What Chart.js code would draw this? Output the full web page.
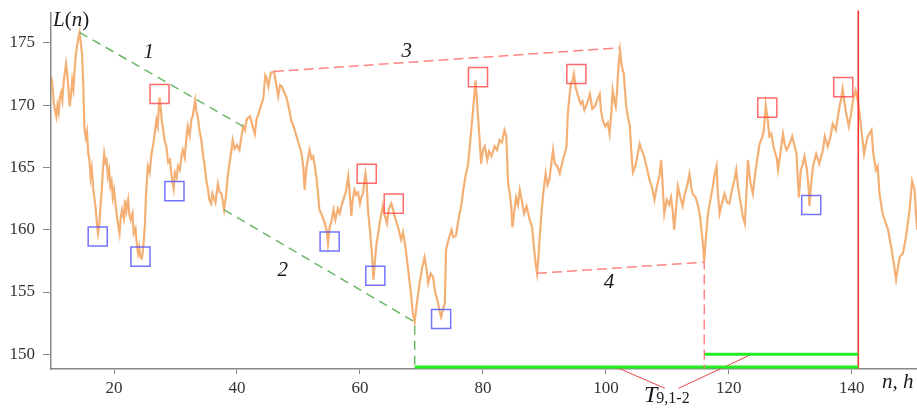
<!DOCTYPE html>
<html>
<head>
<meta charset="utf-8">
<script src="https://cdn.jsdelivr.net/npm/chart.js@4/dist/chart.umd.min.js"></script>
<style>
  html, body { margin: 0; padding: 0; background: #fff; }
  #c { display: block; }
</style>
</head>
<body>
<canvas id="c" width="917" height="408"></canvas>
<script>
// Observation times, h
const hours = [
  9.8,10.0,10.2,10.4,10.6,10.8,11.0,11.2,11.4,11.6,11.8,12.0,12.2,12.4,12.6,12.8,13.0,13.2,13.4,13.6,13.8,14.0,14.2,14.4,14.6,14.8,
  15.0,15.2,15.4,15.6,15.8,16.0,16.2,16.4,16.6,16.8,17.0,17.2,17.4,17.6,17.8,18.0,18.2,18.4,18.6,18.8,19.0,19.2,19.4,19.6,19.8,
  20.0,20.3,20.6,20.9,21.1,21.3,21.6,21.8,22.0,22.3,22.5,22.7,23.0,23.2,23.5,23.7,23.9,24.1,24.3,24.5,24.7,
  25.0,25.2,25.5,25.8,26.1,26.4,26.6,26.9,27.1,27.4,27.6,27.8,28.0,28.2,28.5,28.8,29.1,29.4,29.7,29.9,
  30.2,30.4,30.7,31.0,31.2,31.5,31.8,32.0,32.3,32.6,32.8,33.0,33.2,33.4,33.6,33.9,34.2,34.5,34.7,
  35.0,35.3,35.5,35.8,36.0,36.2,36.5,36.9,37.2,37.5,37.9,38.2,38.5,38.8,39.1,39.3,39.6,
  40.0,40.4,40.7,41.0,41.3,41.6,42.1,42.5,42.9,43.2,43.5,43.7,44.0,44.3,44.6,44.8,
  45.1,45.5,46.0,46.3,46.7,47.0,47.3,47.7,48.0,48.3,48.6,48.8,49.2,49.7,
  50.1,50.5,50.8,51.0,51.3,51.8,52.1,52.4,52.9,53.2,53.4,53.8,54.3,54.6,54.8,
  55.1,55.3,55.7,56.0,56.4,56.7,57.0,57.4,57.7,58.1,58.3,58.6,58.8,59.1,59.4,59.7,
  60.0,60.2,60.5,60.7,60.9,61.1,61.3,61.6,61.9,62.2,62.5,62.7,63.0,63.2,63.5,63.7,64.0,64.4,64.7,
  65.1,65.4,65.8,66.2,66.7,67.0,67.4,67.7,68.1,68.4,68.6,68.9,69.2,69.5,69.7,
  70.1,70.5,70.8,71.1,71.5,71.9,72.2,72.7,73.0,73.2,73.5,73.8,74.0,74.4,74.9,
  75.2,75.6,76.2,76.5,76.8,77.2,77.6,77.9,78.1,78.5,78.8,79.0,79.2,79.5,79.7,
  80.0,80.3,80.7,81.0,81.4,81.9,82.3,82.7,83.1,83.5,83.8,84.1,84.4,84.6,84.8,
  85.1,85.4,85.7,86.0,86.3,86.7,87.1,87.6,88.0,88.4,88.6,88.8,89.0,89.2,89.5,89.8,
  90.2,90.5,90.8,91.1,91.4,91.7,92.1,92.5,93.0,93.3,93.6,93.8,94.1,94.3,94.6,94.8,
  95.1,95.5,95.9,96.2,96.5,97.0,97.4,97.8,98.2,98.6,99.0,99.2,99.5,99.9,
  100.3,100.6,100.9,101.1,101.4,101.6,101.8,102.0,102.3,102.6,102.9,103.3,103.6,103.9,104.1,104.4,104.8,
  105.1,105.5,105.8,106.1,106.6,107.1,107.5,107.9,108.3,108.7,109.0,109.3,109.5,109.9,
  110.3,110.6,110.9,111.1,111.4,111.7,112.1,112.5,112.8,113.2,113.6,113.9,114.1,114.6,
  115.0,115.3,115.5,115.8,116.0,116.3,116.6,117.0,117.3,117.7,118.0,118.2,118.5,118.9,119.3,119.7,
  120.1,120.5,120.9,121.2,121.5,122.0,122.3,122.6,122.9,123.1,123.5,123.9,124.3,124.6,
  125.0,125.4,125.7,126.0,126.3,126.6,126.9,127.2,127.4,127.8,128.0,128.4,128.8,129.1,129.4,129.9,
  130.3,130.7,131.0,131.2,131.4,131.7,132.0,132.3,132.7,133.0,133.1,133.4,133.7,134.2,134.7,
  135.3,135.6,136.1,136.5,136.9,137.4,138.0,138.3,138.5,138.8,139.1,139.5,139.8,
  140.2,140.6,140.9,141.2,141.6,142.0,142.3,142.6,143.2,143.5,143.9,144.2,144.5,
  145.0,145.4,145.9,146.4,146.8,147.2,147.5,147.8,148.3,148.8,149.1,149.4,149.6,149.8,150.2,150.6
];

// Level L(n)
const level = [
  172.3,171.5,170.2,169.6,169.1,170.0,169.4,170.6,171.0,170.4,171.8,172.6,173.3,172.4,171.2,169.9,170.8,172.0,171.3,172.9,174.1,174.8,175.4,175.85,175.0,174.1,
  171.6,168.0,167.4,167.9,166.2,165.6,164.2,164.9,163.4,162.6,161.8,160.6,159.7,160.4,161.9,163.1,164.9,166.1,165.4,165.6,164.3,164.8,163.5,163.9,162.6,
  163.2,161.8,160.6,159.7,161.0,161.6,160.9,162.4,161.5,162.4,161.2,160.8,161.3,159.7,160.1,158.9,158.1,158.6,157.8,157.7,158.3,
  160.2,162.8,165.1,164.6,166.1,166.9,167.7,168.8,168.3,170.6,169.8,168.6,168.0,167.2,166.7,165.4,165.6,164.2,163.3,164.6,
  164.2,165.1,164.8,166.0,166.4,165.8,167.5,168.3,167.6,168.9,169.1,169.8,170.4,169.5,169.1,168.0,167.2,165.9,165.3,
  164.0,163.2,162.4,162.1,162.9,162.6,162.2,163.7,163.0,162.9,161.6,162.7,164.3,165.4,166.4,167.2,166.5,
  166.8,166.4,167.4,168.3,168.0,168.9,169.1,168.4,167.7,168.9,169.3,169.6,170.1,170.6,172.4,172.2,
  171.5,172.6,172.7,171.9,170.7,171.6,171.5,171.0,170.7,170.1,169.4,168.8,168.3,167.5,
  166.8,166.1,165.0,163.2,165.0,166.4,165.7,165.9,164.3,162.8,161.6,161.2,160.5,159.9,158.9,
  160.3,160.5,161.6,160.8,161.7,161.3,161.9,162.6,163.0,164.3,163.1,161.1,162.3,163.2,162.8,163.0,
  162.1,162.6,162.9,163.8,164.5,163.7,161.6,160.1,158.4,156.0,157.9,158.9,159.8,160.5,161.3,161.9,161.2,160.5,161.7,
  162.1,161.6,160.8,160.2,159.2,159.8,158.6,157.4,155.7,154.4,153.3,152.6,153.9,155.0,155.7,
  156.9,157.8,156.9,155.7,156.5,156.2,155.1,154.1,153.4,153.0,153.6,154.1,158.4,159.2,160.0,
  159.4,159.5,161.3,162.0,163.2,164.4,165.3,166.9,168.0,170.2,172.0,170.6,169.1,167.0,165.3,
  166.4,166.7,165.6,166.3,165.9,166.7,166.4,167.2,167.0,168.0,167.5,163.7,162.8,161.9,160.2,
  161.5,162.6,162.0,163.2,162.4,161.3,161.9,160.8,160.2,158.1,157.2,156.5,157.6,159.2,161.2,162.9,
  164.5,163.6,164.0,165.2,166.4,165.3,165.1,164.5,165.6,166.1,166.7,169.3,170.8,171.7,172.0,172.5,
  171.4,170.7,170.1,170.3,169.6,170.2,170.9,169.7,169.9,170.4,170.9,169.6,168.8,168.3,
  168.6,167.7,169.5,171.2,170.3,169.9,171.0,172.8,174.4,173.1,172.5,169.9,169.0,168.3,166.5,164.6,165.1,
  165.9,166.9,166.4,166.1,165.1,164.0,163.4,162.4,163.5,164.3,165.6,163.0,161.3,162.4,
  162.0,162.6,161.4,160.0,161.6,163.5,162.6,161.9,162.8,163.5,164.5,163.4,162.9,162.6,
  161.9,161.1,160.2,158.8,157.5,159.6,161.3,162.4,163.2,164.5,165.1,163.0,161.3,162.2,162.9,162.2,
  162.1,163.2,164.0,164.8,163.4,161.9,161.0,160.5,163.4,165.6,163.8,162.9,164.6,165.6,
  166.9,167.4,168.0,170.0,168.9,167.5,167.7,166.8,166.4,165.7,164.8,166.2,167.7,166.8,166.4,166.9,
  167.5,166.7,166.1,164.2,162.6,164.8,165.2,165.9,164.8,163.2,161.9,163.8,165.1,166.1,165.3,
  166.4,167.5,166.7,167.4,168.5,168.0,169.9,170.6,171.3,170.2,169.3,168.3,169.1,
  170.4,171.2,170.6,169.6,167.8,166.1,166.9,167.5,168.0,166.1,164.8,165.1,162.9,
  161.3,160.7,160.0,158.6,157.4,156.0,157.0,157.8,158.1,159.4,160.5,161.6,162.8,163.9,163.2,160.0
];

// Axis ticks
const xTicks = [20, 40, 60, 80, 100, 120, 140];
const yTicks = [150, 155, 160, 165, 170, 175];

// Trend lines 1-2 (falling) and 3-4 (rising): [n, L] end points
const trend1 = [[14.4, 175.85], [41.0, 168.3]];
const trend2 = [[37.9, 161.6], [68.9, 152.6], [68.9, 148.98]];
const trend3 = [[46.0, 172.7], [102.2, 174.6]];
const trend4 = [[88.8, 156.5], [116.0, 157.4], [116.0, 148.9]];

// Time intervals T9,1-2
const spanLong = [[68.9, 148.98], [141.05, 148.98]];
const spanShort = [[116.0, 150.0], [141.05, 150.0]];
const cutLine = [[141.05, 148.82], [141.05, 177.6]];
const pointerA = [[101.5, 149.0], [109.6, 147.27]];
const pointerB = [[111.8, 147.27], [123.7, 150.0]];

// Local extrema markers
const maxN = [27.4, 61.1, 65.5, 79.2, 95.2, 126.25, 138.6];
const maxL = [170.9, 164.5, 162.1, 172.25, 172.5, 169.8, 171.45];
const minN = [17.35, 24.3, 29.83, 55.07, 62.5, 73.2, 133.4];
const minL = [159.46, 157.84, 163.1, 159.06, 156.3, 152.84, 161.98];

// Trend line numbers: [label, n, L]
const trendLabels = [['1', 25.65, 174.2], ['2', 47.45, 156.7], ['3', 67.6, 174.3], ['4', 100.5, 155.8]];

const pts = (xs, ys) => xs.map((v, i) => ({ x: v, y: ys[i] }));
const seg = arr => arr.map(p => ({ x: p[0], y: p[1] }));

function lineSet(arr, color, width, dash, clip) {
  return {
    type: 'line', data: seg(arr), borderColor: color, borderWidth: width,
    borderDash: dash || [], pointRadius: 0, fill: false, tension: 0,
    clip: clip === false ? false : undefined, order: 1
  };
}

const SERIF = '"Liberation Serif", "Times New Roman", serif';

const labelsPlugin = {
  id: 'labels',
  afterDraw(chart) {
    const { ctx, scales: { x, y } } = chart;
    ctx.save();
    ctx.fillStyle = '#1a1a1a';
    ctx.textBaseline = 'middle';
    ctx.textAlign = 'center';
    ctx.font = 'italic 21px ' + SERIF;
    trendLabels.forEach(([t, n, v]) => ctx.fillText(t, x.getPixelForValue(n), y.getPixelForValue(v)));

    // L(n) heading of the vertical axis
    ctx.textAlign = 'left';
    ctx.textBaseline = 'alphabetic';
    let cx = 53;
    const base = 26;
    [['L', 'italic '], ['(', ''], ['n', 'italic '], [')', '']].forEach(([t, st]) => {
      ctx.font = st + '21px ' + SERIF;
      ctx.fillText(t, cx, base);
      cx += ctx.measureText(t).width;
    });

    // n, h heading of the horizontal axis
    ctx.font = 'italic 21px ' + SERIF;
    ctx.fillText('n, h', 882, 388);

    // T9,1-2 interval label
    ctx.font = 'italic 24px ' + SERIF;
    ctx.fillText('T', 644, 402);
    const tw = ctx.measureText('T').width;
    ctx.font = '16px ' + SERIF;
    ctx.fillText('9,1-2', 644 + tw - 1, 403);
    ctx.restore();
  }
};

new Chart(document.getElementById('c'), {
  type: 'scatter',
  data: {
    datasets: [
      {
        type: 'line', data: pts(hours, level), borderColor: 'rgba(240,150,70,0.75)',
        borderWidth: 2.2, pointRadius: 0, tension: 0, fill: false, order: 3
      },
      lineSet(trend1, 'rgba(90,175,90,0.9)', 1.5, [9, 6]),
      lineSet(trend2, 'rgba(90,175,90,0.9)', 1.5, [9, 6]),
      lineSet(trend3, 'rgba(255,110,110,0.85)', 1.5, [10, 5]),
      lineSet(trend4, 'rgba(255,110,110,0.85)', 1.5, [10, 5]),
      lineSet(spanLong, '#22ee22', 3),
      lineSet(spanShort, '#22ee22', 3),
      lineSet(cutLine, '#ff3333', 1.6, [], false),
      lineSet(pointerA, '#e84848', 1, [], false),
      lineSet(pointerB, '#e84848', 1, [], false),
      {
        data: pts(maxN, maxL), pointStyle: 'rect', pointRadius: 13.5,
        backgroundColor: 'rgba(0,0,0,0)', borderColor: 'rgba(255,70,70,0.8)',
        pointBorderWidth: 1.5, order: 0
      },
      {
        data: pts(minN, minL), pointStyle: 'rect', pointRadius: 13.5,
        backgroundColor: 'rgba(0,0,0,0)', borderColor: 'rgba(80,80,255,0.8)',
        pointBorderWidth: 1.5, order: 0
      }
    ]
  },
  options: {
    responsive: false,
    animation: false,
    devicePixelRatio: 1,
    layout: { autoPadding: false, padding: { top: 13, right: 0, left: 0, bottom: 0 } },
    plugins: { legend: { display: false }, tooltip: { enabled: false } },
    scales: {
      x: {
        type: 'linear', min: 9.75, max: 150.6,
        afterBuildTicks: s => { s.ticks = xTicks.map(v => ({ value: v })); },
        afterFit: s => { s.height = 39; s.paddingLeft = 0; s.paddingRight = 0; },
        grid: { drawOnChartArea: false, drawTicks: true, tickLength: 5, color: '#888' },
        border: { display: true, color: '#888', width: 1.5 },
        ticks: { color: '#333', font: { family: SERIF, size: 17 }, padding: 4, maxRotation: 0 }
      },
      y: {
        type: 'linear', min: 148.82, max: 177.4,
        afterBuildTicks: s => { s.ticks = yTicks.map(v => ({ value: v })); },
        afterFit: s => { s.width = 51; s.paddingTop = 0; s.paddingBottom = 0; },
        grid: { drawOnChartArea: false, drawTicks: true, tickLength: 8, color: '#888' },
        border: { display: true, color: '#888', width: 1.5 },
        ticks: { color: '#333', font: { family: SERIF, size: 17 }, padding: 8 }
      }
    }
  },
  plugins: [labelsPlugin]
});
</script>
</body>
</html>
